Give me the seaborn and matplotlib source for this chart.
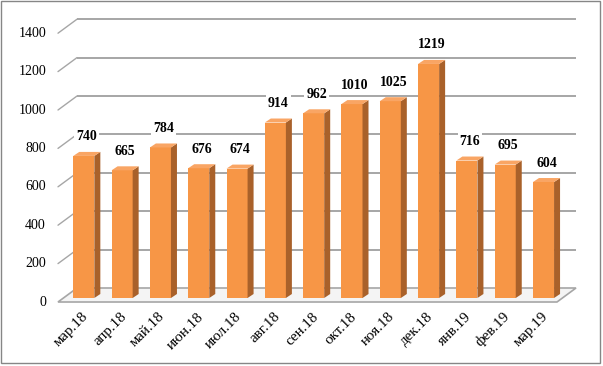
import matplotlib
matplotlib.use('Agg')
import matplotlib.pyplot as plt
import seaborn as sns
import pandas as pd
from matplotlib.patches import Polygon, Rectangle

months = ['мар.18', 'апр.18', 'май.18', 'июн.18', 'июл.18', 'авг.18', 'сен.18',
          'окт.18', 'ноя.18', 'дек.18', 'янв.19', 'фев.19', 'мар.19']
values = [740, 665, 784, 676, 674, 914, 962, 1010, 1025, 1219, 716, 695, 604]
y_ticks = [0, 200, 400, 600, 800, 1000, 1200, 1400]

sns.set_style('white')
FONT = ['Liberation Serif', 'DejaVu Serif']

W, H = 603, 366
fig = plt.figure(figsize=(W / 100, H / 100), dpi=100)
ax = fig.add_axes([0, 0, 1, 1])

# pixel layout helpers
X0, SX = 83.8, 38.31    # first bar centre (px), category spacing (px)
Y0, SY = 298.0, 0.192   # bar baseline (px), px per value unit
def dx(px): return px / SX
def dy(px): return px / SY
def fx(px): return (px - X0) / SX
def fy(py): return (Y0 - py) / SY

FRONT = '#F79646'
SIDE = '#A9612A'
TOP = '#F9A564'
GRID = '#A6A6A6'

df = pd.DataFrame({'month': months, 'value': values})
sns.barplot(data=df, x='month', y='value', color=FRONT, saturation=1,
            width=0.55, ax=ax, zorder=3, linewidth=0)

ax.set_xlim(fx(0), fx(W))
ax.set_ylim(fy(H), fy(0))
ax.axis('off')

# floor
floor = Polygon([(fx(58), -dy(4)), (fx(557), -dy(4)), (fx(576), dy(10)), (fx(77), dy(10))],
                closed=True, facecolor='#F4F4F4', edgecolor=GRID, lw=1.2, zorder=1.5)
ax.add_patch(floor)

# back wall gridlines and diagonal tick lines + tick labels
for v in y_ticks:
    if v > 0:
        ax.plot([fx(77), fx(576)], [v + dy(10)] * 2, color=GRID, lw=1.4, zorder=1,
                solid_capstyle='butt')
        ax.plot([fx(58), fx(77)], [v - dy(4), v + dy(10)], color=GRID, lw=1.0, zorder=1)
    ax.text(fx(46), v - dy(4), str(v), ha='right', va='center', fontsize=10,
            family=FONT, color='#000000')

# 3D faces for bars
ddx, ddy = dx(6), dy(4)
for p in ax.patches:
    if not isinstance(p, Rectangle) or p.get_height() <= 0:
        continue
    x, w, h = p.get_x(), p.get_width(), p.get_height()
    side = Polygon([(x + w, 0), (x + w + ddx, ddy), (x + w + ddx, h + ddy), (x + w, h)],
                   closed=True, facecolor=SIDE, edgecolor='none', zorder=3)
    top = Polygon([(x, h), (x + w, h), (x + w + ddx, h + ddy), (x + ddx, h + ddy)],
                  closed=True, facecolor=TOP, edgecolor='none', zorder=3)
    ax.add_patch(side)
    ax.add_patch(top)

# data labels and category labels
for i, (m, v) in enumerate(zip(months, values)):
    ax.text(i + dx(3), v + dy(19), str(v), ha='center', va='center', fontsize=10,
            fontweight='bold', family=FONT, color='#000000', zorder=5,
            bbox=dict(facecolor='white', edgecolor='none', pad=1.5))
    ax.text(i - dx(2), fy(310), m, rotation=45, ha='right', va='top',
            rotation_mode='anchor', fontsize=10.8, family=FONT, color='#000000')

# outer border
fig.patches.append(Rectangle((1 / W, 3 / H), 599 / W, 362 / H, transform=fig.transFigure,
                             fill=False, edgecolor='#868686', lw=1.0))

fig.savefig('out.png', dpi=100)
